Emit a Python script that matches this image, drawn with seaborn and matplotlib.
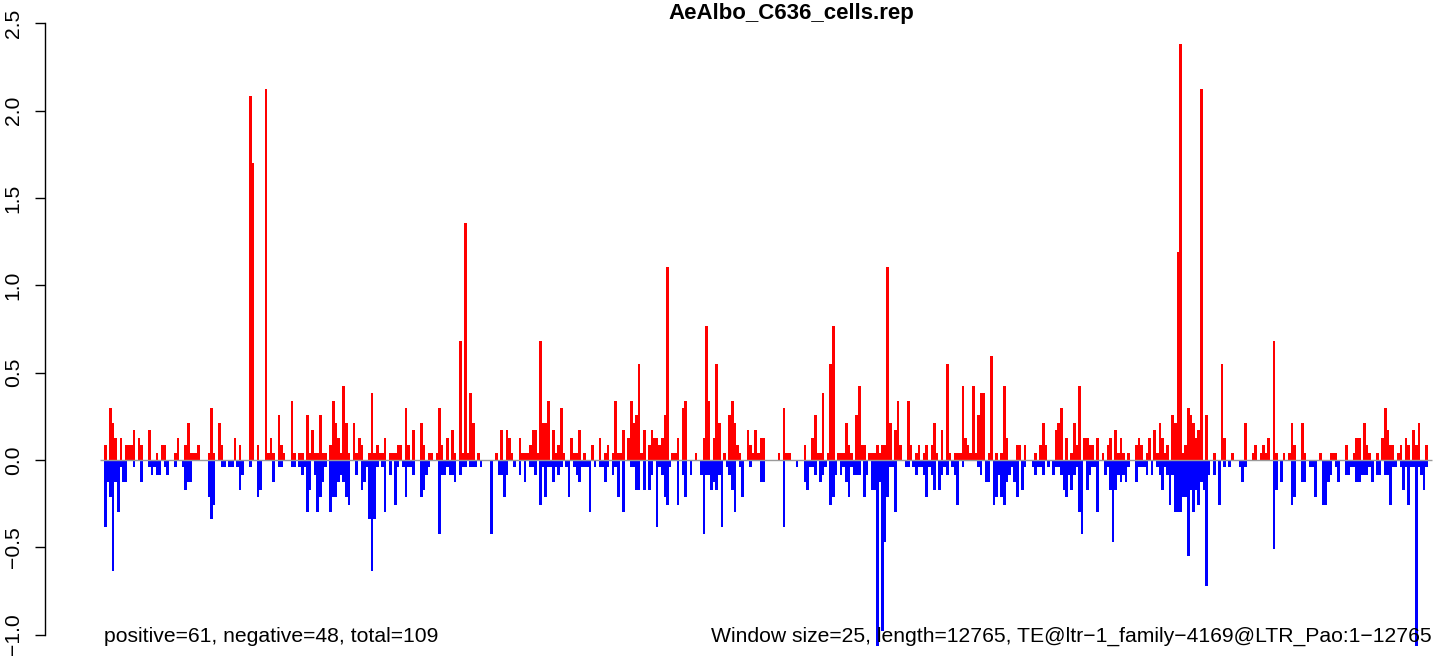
import matplotlib
matplotlib.use("Agg")
import matplotlib.pyplot as plt
import seaborn as sns
import numpy as np
import pandas as pd

# ---------------- data ----------------
title = "AeAlbo_C636_cells.rep"
left_note = "positive=61, negative=48, total=109"
right_note = "Window size=25, length=12765, TE@ltr\u22121_family\u22124169@LTR_Pao:1\u221212765"

# normalised read signal is quantised in steps of this size
unit = 0.0425

# positive-strand signal per 25-bp window, in steps of `unit`
pos_counts = [
    2, 0, 7, 5, 3, 0, 3, 0, 2, 2,
    2, 4, 0, 3, 2, 0, 0, 4, 0, 0,
    1, 0, 2, 2, 0, 0, 0, 1, 3, 0,
    0, 2, 5, 1, 1, 1, 2, 0, 0, 0,
    1, 7, 1, 0, 5, 2, 0, 0, 0, 0,
    3, 0, 2, 0, 0, 0, 49, 40, 0, 2,
    0, 0, 50, 1, 3, 1, 0, 6, 2, 1,
    0, 0, 8, 1, 0, 1, 1, 0, 6, 1,
    4, 1, 1, 6, 1, 1, 0, 2, 8, 5,
    3, 1, 10, 5, 1, 0, 5, 1, 3, 2,
    0, 0, 1, 9, 1, 2, 1, 1, 3, 0,
    1, 1, 1, 2, 2, 0, 7, 2, 0, 4,
    0, 0, 5, 2, 0, 1, 1, 0, 1, 7,
    2, 0, 3, 0, 4, 1, 0, 16, 1, 32,
    1, 9, 5, 0, 1, 0, 0, 0, 0, 0,
    0, 1, 0, 4, 0, 4, 3, 1, 0, 0,
    3, 1, 1, 1, 2, 4, 4, 1, 16, 5,
    5, 8, 0, 4, 1, 2, 7, 1, 0, 0,
    3, 1, 1, 4, 0, 1, 0, 0, 2, 0,
    0, 3, 0, 1, 2, 0, 1, 8, 1, 1,
    4, 0, 3, 8, 5, 6, 13, 1, 4, 0,
    2, 4, 3, 3, 2, 3, 6, 26, 0, 1,
    1, 3, 0, 7, 8, 0, 0, 0, 1, 0,
    0, 3, 18, 8, 0, 3, 13, 5, 0, 1,
    0, 6, 8, 5, 2, 1, 0, 0, 4, 2,
    1, 4, 1, 3, 3, 0, 0, 0, 0, 0,
    1, 0, 7, 1, 1, 0, 0, 0, 0, 0,
    2, 0, 0, 3, 6, 1, 1, 9, 0, 1,
    13, 18, 0, 1, 1, 1, 5, 2, 1, 0,
    6, 10, 2, 2, 0, 1, 1, 1, 2, 1,
    2, 2, 26, 5, 0, 4, 8, 2, 0, 0,
    8, 2, 0, 1, 2, 0, 1, 2, 0, 2,
    5, 1, 0, 4, 0, 13, 1, 0, 1, 1,
    1, 10, 3, 2, 1, 10, 1, 6, 9, 9,
    0, 1, 14, 0, 1, 0, 1, 10, 3, 0,
    0, 0, 2, 2, 0, 2, 0, 0, 0, 1,
    0, 2, 5, 2, 0, 0, 0, 4, 5, 7,
    0, 3, 0, 1, 5, 2, 10, 0, 3, 3,
    2, 2, 0, 3, 0, 1, 0, 2, 3, 0,
    4, 1, 3, 1, 0, 1, 0, 0, 2, 3,
    2, 0, 1, 3, 0, 4, 1, 5, 3, 1,
    2, 0, 6, 5, 28, 56, 1, 2, 7, 6,
    5, 3, 4, 50, 0, 6, 0, 0, 1, 0,
    0, 13, 3, 0, 0, 1, 0, 0, 0, 0,
    5, 0, 0, 1, 2, 0, 1, 2, 1, 3,
    0, 16, 1, 0, 0, 1, 0, 1, 5, 2,
    0, 0, 5, 1, 0, 0, 0, 0, 0, 1,
    0, 0, 0, 1, 1, 1, 0, 0, 0, 2,
    0, 0, 1, 3, 3, 0, 5, 2, 1, 0,
    0, 1, 0, 3, 7, 4, 2, 2, 0, 1,
    2, 0, 3, 2, 0, 4, 2, 5, 0, 0,
    2,
]

# negative-strand signal per window (drawn downward), in steps of `unit`
neg_counts = [
    9, 3, 5, 15, 3, 7, 1, 3, 3, 0,
    0, 1, 0, 0, 3, 0, 0, 1, 2, 1,
    2, 2, 0, 1, 2, 0, 0, 1, 0, 0,
    1, 4, 3, 3, 0, 0, 0, 0, 0, 0,
    5, 8, 6, 0, 0, 1, 1, 0, 1, 1,
    0, 1, 4, 2, 0, 0, 1, 0, 0, 5,
    4, 0, 0, 0, 0, 3, 0, 1, 1, 0,
    0, 0, 1, 1, 0, 1, 2, 1, 7, 4,
    0, 2, 7, 5, 3, 1, 0, 7, 5, 5,
    3, 2, 3, 5, 6, 0, 0, 2, 0, 4,
    3, 1, 8, 15, 8, 1, 0, 1, 7, 0,
    2, 0, 6, 1, 0, 1, 5, 1, 1, 2,
    0, 0, 5, 4, 2, 1, 0, 0, 0, 10,
    2, 2, 1, 2, 2, 3, 0, 2, 1, 1,
    0, 1, 1, 1, 0, 1, 0, 0, 0, 10,
    0, 0, 2, 2, 5, 2, 0, 0, 1, 0,
    2, 0, 3, 0, 1, 1, 2, 0, 6, 1,
    5, 1, 1, 3, 1, 2, 1, 0, 1, 5,
    0, 1, 2, 3, 1, 1, 1, 7, 0, 1,
    0, 1, 1, 3, 1, 0, 2, 1, 5, 0,
    7, 0, 0, 1, 1, 4, 4, 0, 4, 0,
    4, 2, 0, 9, 1, 2, 5, 6, 1, 0,
    0, 6, 0, 2, 5, 0, 2, 0, 0, 0,
    2, 10, 2, 2, 4, 3, 4, 2, 9, 0,
    1, 2, 4, 7, 0, 1, 5, 0, 0, 1,
    0, 0, 0, 3, 3, 0, 0, 0, 0, 0,
    0, 0, 9, 0, 0, 0, 0, 1, 0, 0,
    3, 4, 1, 1, 2, 0, 3, 2, 1, 0,
    6, 5, 2, 0, 2, 1, 3, 5, 1, 2,
    2, 2, 0, 5, 2, 0, 4, 4, 25, 3,
    23, 11, 5, 1, 1, 7, 0, 0, 0, 1,
    1, 0, 1, 2, 1, 1, 2, 5, 1, 2,
    4, 0, 4, 2, 1, 2, 0, 1, 2, 6,
    0, 1, 0, 0, 0, 0, 0, 1, 2, 0,
    3, 3, 0, 6, 5, 2, 5, 6, 3, 2,
    1, 3, 5, 0, 4, 1, 0, 0, 1, 2,
    1, 1, 2, 0, 1, 0, 2, 1, 1, 2,
    4, 5, 2, 4, 2, 1, 7, 10, 0, 4,
    2, 1, 1, 7, 0, 0, 2, 1, 4, 11,
    4, 2, 3, 2, 3, 1, 0, 0, 3, 1,
    1, 1, 2, 0, 2, 0, 1, 2, 4, 1,
    2, 6, 2, 7, 7, 7, 5, 5, 13, 4,
    7, 4, 6, 3, 4, 17, 2, 0, 2, 0,
    6, 0, 1, 0, 1, 0, 0, 0, 1, 3,
    1, 0, 0, 0, 0, 0, 0, 0, 0, 0,
    0, 12, 4, 0, 3, 0, 0, 0, 6, 5,
    0, 0, 3, 3, 0, 1, 1, 5, 0, 0,
    6, 6, 3, 2, 0, 1, 3, 0, 0, 2,
    2, 1, 1, 3, 3, 2, 2, 2, 1, 3,
    0, 2, 2, 0, 2, 2, 6, 1, 1, 0,
    1, 4, 1, 6, 1, 1, 25, 1, 2, 4,
    1,
]

ytick_values = [-1.0, -0.5, 0.0, 0.5, 1.0, 1.5, 2.0, 2.5]
ytick_labels = ["\u22121.0", "\u22120.5", "0.0", "0.5", "1.0", "1.5", "2.0", "2.5"]

# ---------------- plotting ----------------
sns.set_theme(style="white")
plt.rcParams["font.family"] = ["Liberation Sans", "DejaVu Sans"]
plt.rcParams["text.color"] = "black"
plt.rcParams["axes.labelcolor"] = "black"
plt.rcParams["ytick.color"] = "black"

window = np.arange(len(pos_counts))
df = pd.DataFrame({
    "window": window,
    "pos": np.array(pos_counts) * unit,
    "neg": -np.array(neg_counts) * unit,
})

W, H = 1444, 656
fig = plt.figure(figsize=(W / 100, H / 100), dpi=100)
ax = fig.add_axes([45 / W, 0, 1 - 45 / W, 1])
ax.patch.set_alpha(0)

sns.barplot(data=df, x="window", y="pos", native_scale=True, width=1,
            color="#FF0000", saturation=1, linewidth=0, errorbar=None,
            antialiased=False, ax=ax)
sns.barplot(data=df, x="window", y="neg", native_scale=True, width=1,
            color="#0000FF", saturation=1, linewidth=0, errorbar=None,
            antialiased=False, ax=ax)

# pixel layout: bar i spans 104 + 2.591*i ... ; axes starts at pixel 45
bw = 2.591
def px2x(px):
    return (px - 104) / bw - 0.5

ax.hlines(0, px2x(100), px2x(1432), color="#9A9A9A", lw=1.0, zorder=5)

ax.set_xlim(px2x(45), px2x(W))
ax.set_ylim(-(H - 460) / 174.6, 460 / 174.6)

ax.set_xticks([])
ax.set_xlabel("")
ax.set_ylabel("")
ax.set_yticks(ytick_values)
ax.set_yticklabels(ytick_labels, rotation=90, va="center", fontsize=15.2,
                   color="black")
ax.tick_params(axis="y", left=True, direction="out", length=7, width=1,
               pad=9, colors="black")
for s in ["top", "right", "bottom"]:
    ax.spines[s].set_visible(False)
ax.spines["left"].set_bounds(-1.0, 2.5)
ax.spines["left"].set_color("black")
ax.spines["left"].set_linewidth(1)

fig.text(791 / W, 1 - 14 / H, title, ha="center", va="center",
         fontsize=16, fontweight="bold", color="black")
fig.text(104 / W, 1 - 636 / H, left_note, ha="left", va="center",
         fontsize=15.2, color="black")
fig.text(1432 / W, 1 - 636 / H, right_note, ha="right", va="center",
         fontsize=15.2, color="black")

fig.savefig("out.png", dpi=100)
